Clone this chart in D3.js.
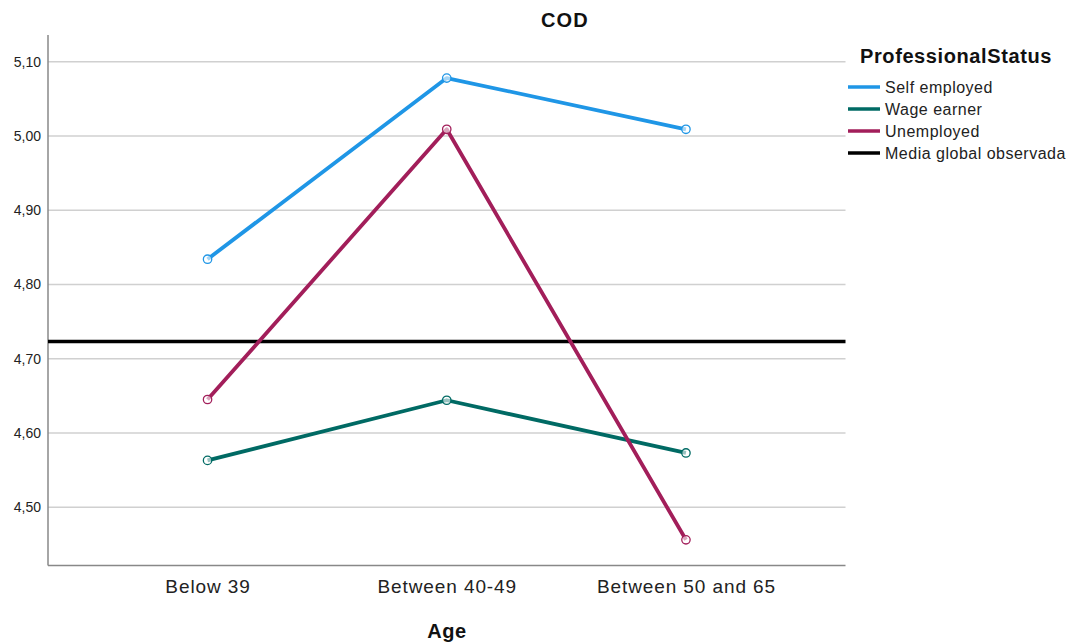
<!DOCTYPE html>
<html><head><meta charset="utf-8">
<script src="https://cdn.jsdelivr.net/npm/d3@7"></script>
<style>body{margin:0;background:#fff;} svg{display:block;font-family:"Liberation Sans",Arial,sans-serif;}</style>
</head><body>
<svg id="c" width="1073" height="642"></svg>
<script>
const categories = ["Below 39", "Between 40-49", "Between 50 and 65"];
const seriesNames = ["Self employed", "Wage earner", "Unemployed"];
const selfEmployed = [4.834, 5.078, 5.009];
const wageEarner = [4.563, 4.644, 4.573];
const unemployed = [4.645, 5.009, 4.456];
const globalMean = 4.723;
const yTicks = [4.5, 4.6, 4.7, 4.8, 4.9, 5.0, 5.1];
const colors = ["#1f96e6", "#006a64", "#a21e5a"];
const meanLabel = "Media global observada";

const series = [selfEmployed, wageEarner, unemployed];
const svg = d3.select("#c");
const L = 48, R = 845.5, T = 35, B = 565.5;

const x = d3.scalePoint().domain(categories).range([L, R]).padding(0.667);
const y = d3.scaleLinear().domain([4.4214, 5.136]).range([B, T]);

// gridlines
svg.append("g").selectAll("line").data(yTicks).join("line")
  .attr("x1", L).attr("x2", R)
  .attr("y1", d => y(d)).attr("y2", d => y(d))
  .attr("stroke", "#d0d0d0").attr("stroke-width", 1.5);

// y axis
const fmt = d => d3.format(".2f")(d).replace(".", ",");
const ya = svg.append("g").attr("transform", `translate(${L},0)`)
  .call(d3.axisLeft(y).tickValues(yTicks).tickFormat(fmt).tickSize(0).tickPadding(7));
ya.select(".domain").remove();
ya.selectAll("text").attr("font-size", 14).attr("fill", "#222").attr("font-family", "Liberation Sans, Arial, sans-serif");
svg.append("line").attr("x1", L).attr("x2", L).attr("y1", T).attr("y2", B)
  .attr("stroke", "#888").attr("stroke-width", 1.5);

// x axis
const xa = svg.append("g").attr("transform", `translate(0,${B})`)
  .call(d3.axisBottom(x).tickSize(0).tickPadding(14));
xa.select(".domain").remove();
xa.selectAll("text").attr("font-size", 19).attr("letter-spacing", 0.9).attr("fill", "#222").attr("font-family", "Liberation Sans, Arial, sans-serif");
svg.append("line").attr("x1", L).attr("x2", R).attr("y1", B).attr("y2", B)
  .attr("stroke", "#888").attr("stroke-width", 1.5);

// mean line
svg.append("line").attr("x1", L).attr("x2", R)
  .attr("y1", y(globalMean)).attr("y2", y(globalMean))
  .attr("stroke", "#000").attr("stroke-width", 3.5);

// series
const line = d3.line().x((d, i) => x(categories[i])).y(d => y(d));
series.forEach((s, k) => {
  svg.append("path").datum(s).attr("d", line)
    .attr("fill", "none").attr("stroke", colors[k]).attr("stroke-width", 3.8)
    .attr("stroke-linejoin", "round");
  svg.append("g").selectAll("circle").data(s).join("circle")
    .attr("cx", (d, i) => x(categories[i])).attr("cy", d => y(d)).attr("r", 4.2)
    .attr("fill", "#fff").attr("fill-opacity", 0.6).attr("stroke", colors[k]).attr("stroke-width", 1.3);
});

// title
svg.append("text").attr("x", 565).attr("y", 27).attr("text-anchor", "middle")
  .attr("font-size", 20).attr("letter-spacing", 1.2).attr("font-weight", "bold").attr("fill", "#111").text("COD");
svg.append("text").attr("x", 447).attr("y", 638).attr("text-anchor", "middle")
  .attr("font-size", 20).attr("letter-spacing", 0.5).attr("font-weight", "bold").attr("fill", "#111").text("Age");

// legend
svg.append("text").attr("x", 860).attr("y", 63)
  .attr("font-size", 20).attr("letter-spacing", 0.6).attr("font-weight", "bold").attr("fill", "#111").text("ProfessionalStatus");
const legItems = seriesNames.map((n, i) => ({name: n, color: colors[i]}))
  .concat([{name: meanLabel, color: "#000"}]);
const lg = svg.append("g").selectAll("g").data(legItems).join("g")
  .attr("transform", (d, i) => `translate(848,${87 + i * 22})`);
lg.append("line").attr("x1", 0).attr("x2", 32).attr("y1", 0).attr("y2", 0)
  .attr("stroke", d => d.color).attr("stroke-width", 3.5);
lg.append("text").attr("x", 37).attr("y", 6).attr("font-size", 16).attr("letter-spacing", 0.5).attr("fill", "#222").text(d => d.name);
</script>
</body></html>
